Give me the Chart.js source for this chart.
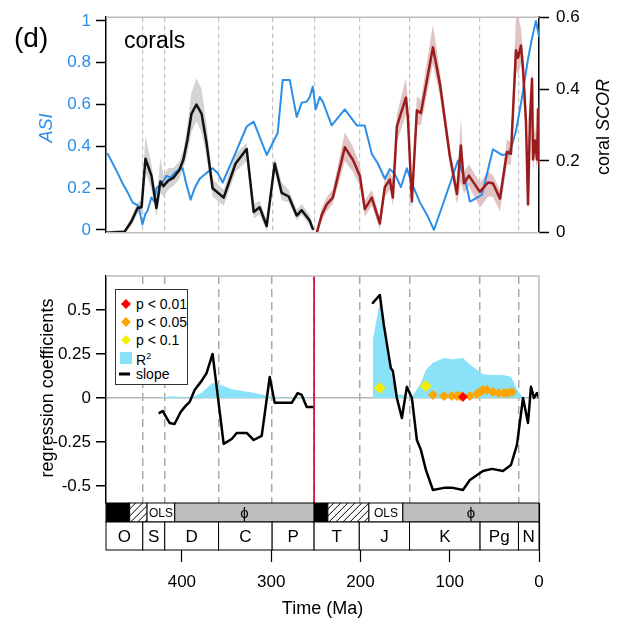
<!DOCTYPE html>
<html>
<head>
<meta charset="utf-8">
<title>corals</title>
<script src="https://cdn.jsdelivr.net/npm/chart.js@4.4.1/dist/chart.umd.min.js"></script>
<style>
  body { margin: 0; background: #fff; font-family: "Liberation Sans", Arial, sans-serif; }
  #page { position: relative; width: 618px; height: 625px; overflow: hidden; }
  #topPanel { position: absolute; left: 0; top: 0; }
  #bottomPanel { position: absolute; left: 0; top: 250px; }
  .txt { position: absolute; white-space: nowrap; color: #000; line-height: 1; }
  .vert { transform: translate(-50%, -50%) rotate(-90deg); }
  #legend { position: absolute; left: 115px; top: 289px; width: 71px; height: 94px; border: 1px solid #333; background: #fff; font-size: 14px; }
  #legend .lt { position: absolute; left: 20px; transform: translateY(-50%); white-space: nowrap; line-height: 1; }
  #legend .dia { position: absolute; left: 10px; width: 7px; height: 7px; transform: translate(-50%, -50%) rotate(45deg); }
  #legend .sq { position: absolute; left: 4px; width: 12px; height: 12px; transform: translateY(-50%); background: #8ae2f8; }
  #legend .ln { position: absolute; left: 3px; width: 11px; height: 3px; transform: translateY(-50%); background: #000; }
  #legend sup { font-size: 9px; vertical-align: 6px; }
</style>
</head>
<body>
<div id="page">
  <canvas id="topPanel" width="618" height="250"></canvas>
  <canvas id="bottomPanel" width="618" height="375"></canvas>

  <div class="txt" style="left:14px;top:24px;font-size:28px;">(d)</div>
  <div class="txt" style="left:124px;top:29px;font-size:23px;">corals</div>
  <div class="txt vert" style="left:46px;top:128px;font-size:18px;color:#2b8ee9;font-style:italic;">ASI</div>
  <div class="txt vert" style="left:603px;top:127px;font-size:18px;">coral <i>SCOR</i></div>
  <div class="txt vert" style="left:47px;top:388px;font-size:18px;">regression coefficients</div>

  <div id="legend">
    <span class="dia" style="top:14px;background:#ff0000"></span><span class="lt" style="top:14px">p &lt; 0.01</span>
    <span class="dia" style="top:32px;background:#ffa500"></span><span class="lt" style="top:32px">p &lt; 0.05</span>
    <span class="dia" style="top:50px;background:#f2ee00"></span><span class="lt" style="top:50px">p &lt; 0.1</span>
    <span class="sq" style="top:68px"></span><span class="lt" style="top:69px">R<sup>2</sup></span>
    <span class="ln" style="top:84px"></span><span class="lt" style="top:84px">slope</span>
  </div>
</div>

<script>
// geologic time scale (Ma)
const periodNames = ['O', 'S', 'D', 'C', 'P', 'T', 'J', 'K', 'Pg', 'N'];
const periodBase = [485, 443.8, 419.2, 358.9, 298.9, 251.9, 201.3, 145, 66, 23];
const periodTop = [443.8, 419.2, 358.9, 298.9, 251.9, 201.3, 145, 66, 23, 0];
const methodBase = [485, 458.5, 439, 408, 251.9, 236.5, 190.5, 152.5];
const methodTop = [458.5, 439, 408, 251.9, 236.5, 190.5, 152.5, 0];
const methodKind = ['none', 'hatch', 'OLS', 'phi', 'none', 'hatch', 'OLS', 'phi'];
const boundaries = [443.8, 419.2, 358.9, 298.9, 251.9, 201.3, 145, 66, 23];
const ptBoundary = 251.9;

// tick labels
const asiTicks = [0, 0.2, 0.4, 0.6, 0.8, 1];
const scorTicks = [0, 0.2, 0.4, 0.6];
const regTicks = [0.5, 0.25, 0, -0.25, -0.5];
const timeTicks = [400, 300, 200, 100, 0];

// ASI
const asiAge = [483, 472, 466.5, 461, 455.3, 448.6, 444.2, 440.8, 438.6, 434.1, 430.8, 428.5, 421.8, 417.1, 412.7,
  408.2, 402.6, 399.2, 394.7, 390.2, 385.7, 380.1, 372.3, 365.6, 360, 354.3, 340.9, 327.4, 319.6, 305,
  292.7, 287.1, 279.2, 271.4, 265.8, 260.2, 256.8, 253.4, 250.1, 245.6, 242.2, 232.2, 217.6, 204.1, 195.2,
  187.3, 180.5, 172.7, 167.1, 161.5, 154.7, 148, 142.4, 133.4, 124.5, 117.7, 107.6, 90.8, 83, 77.4,
  63.9, 51.6, 41.5, 34.8, 30.3, 25.8, 19.1, 12.3, 7.8, 3.4, 0];
const asiValue = [0.364, 0.273, 0.223, 0.182, 0.132, 0.114, 0.027, 0.077, 0.091, 0.155, 0.136, 0.2, 0.227, 0.259, 0.25,
  0.273, 0.291, 0.295, 0.214, 0.145, 0.2, 0.245, 0.273, 0.295, 0.273, 0.227, 0.359, 0.495, 0.518, 0.359,
  0.464, 0.718, 0.718, 0.541, 0.609, 0.614, 0.636, 0.686, 0.577, 0.636, 0.614, 0.5, 0.577, 0.5, 0.5,
  0.364, 0.318, 0.245, 0.291, 0.268, 0.205, 0.295, 0.223, 0.132, 0.064, 0, 0.123, 0.332, 0.245, 0.136,
  0.168, 0.386, 0.359, 0.364, 0.405, 0.473, 0.632, 0.818, 0.918, 1.0, 0.927];

// coral SCOR, Paleozoic
const scorPalAge = [484.4, 464.2, 456.4, 449.6, 445.2, 440.8, 434.1, 428.5, 424, 420.7, 415.1, 409.5, 402.8, 398.3, 393.8,
  389.3, 383.7, 377.9, 372.3, 365.6, 353.2, 339.8, 327.4, 319.6, 312.9, 305, 296, 288.2, 280.3, 271.4,
  265.8, 256.8, 253.4];
const scorPal = [0, 0.003, 0.032, 0.069, 0.071, 0.206, 0.159, 0.069, 0.143, 0.13, 0.146, 0.153, 0.175, 0.204, 0.259,
  0.331, 0.357, 0.331, 0.249, 0.124, 0.098, 0.193, 0.233, 0.058, 0.071, 0.019, 0.193, 0.111, 0.101, 0.048,
  0.063, 0.034, 0.011];
const scorPalLow = [0, 0, 0.02, 0.055, 0.05, 0.17, 0.12, 0.045, 0.11, 0.1, 0.12, 0.13, 0.15, 0.18, 0.22,
  0.28, 0.31, 0.28, 0.21, 0.1, 0.075, 0.17, 0.2, 0.04, 0.05, 0.005, 0.17, 0.09, 0.085, 0.035,
  0.05, 0.02, 0.005];
const scorPalHigh = [0.005, 0.008, 0.045, 0.085, 0.09, 0.27, 0.19, 0.09, 0.21, 0.16, 0.18, 0.18, 0.2, 0.23, 0.3,
  0.39, 0.43, 0.4, 0.3, 0.15, 0.12, 0.22, 0.25, 0.08, 0.09, 0.035, 0.21, 0.14, 0.12, 0.065,
  0.08, 0.05, 0.02];

// coral SCOR, Mesozoic-Cenozoic
const scorMesAge = [248.9, 243.3, 237.7, 231, 217.5, 208.6, 200.7, 195.1, 187.3, 178.3, 172.7, 167.1, 163.7, 159.2, 149.1,
  146.9, 142.4, 136.8, 132.3, 118.8, 111, 99.8, 91.9, 87.5, 84.1, 78.5, 66.2, 57.2, 51.6, 43.7,
  35.9, 31.4, 25.8, 23.5, 20.2, 17.9, 14.6, 12.3, 10.1, 7.8, 6.7, 4.5, 2.2, 1.1, 0];
const scorMes = [0, 0.05, 0.079, 0.098, 0.238, 0.204, 0.159, 0.066, 0.098, 0.026, 0.127, 0.148, 0.098, 0.296, 0.376,
  0.323, 0.087, 0.341, 0.333, 0.516, 0.415, 0.212, 0.108, 0.243, 0.138, 0.159, 0.114, 0.14, 0.138, 0.095,
  0.225, 0.22, 0.508, 0.487, 0.521, 0.458, 0.31, 0.079, 0.317, 0.429, 0.204, 0.257, 0.204, 0.344, 0.193];
const scorMesLow = [0, 0.035, 0.06, 0.08, 0.2, 0.17, 0.13, 0.045, 0.075, 0.01, 0.1, 0.12, 0.075, 0.25, 0.33,
  0.28, 0.06, 0.3, 0.3, 0.47, 0.38, 0.19, 0.08, 0.14, 0.11, 0.13, 0.07, 0.1, 0.1, 0.06,
  0.19, 0.19, 0.45, 0.44, 0.47, 0.4, 0.25, 0.06, 0.27, 0.38, 0.17, 0.22, 0.17, 0.3, 0.16];
const scorMesHigh = [0.01, 0.07, 0.1, 0.12, 0.28, 0.24, 0.19, 0.09, 0.12, 0.045, 0.15, 0.17, 0.15, 0.33, 0.43,
  0.37, 0.11, 0.38, 0.37, 0.58, 0.45, 0.24, 0.13, 0.32, 0.17, 0.19, 0.14, 0.17, 0.16, 0.12,
  0.26, 0.25, 0.6, 0.6, 0.57, 0.5, 0.37, 0.12, 0.36, 0.46, 0.25, 0.3, 0.25, 0.38, 0.23];

// regression, Paleozoic
const regPalAge = [425, 421.6, 413.8, 408.2, 401.4, 395.8, 391.3, 385.7, 377.9, 372.3, 365.6, 353.2, 344.2, 338.6, 327.4,
  319.6, 310.6, 301.6, 296, 287.1, 277, 270.2, 265.8, 260.2, 253.4];
const slopePal = [-0.085, -0.074, -0.142, -0.148, -0.08, -0.045, -0.023, 0.045, 0.097, 0.142, 0.25, -0.261, -0.233, -0.199, -0.199,
  -0.239, -0.216, 0.119, -0.028, -0.028, -0.028, 0.028, 0.017, -0.051, -0.051];
const r2Pal = [0, 0.003, 0.008, 0.01, 0.004, 0.002, 0.003, 0.01, 0.03, 0.055, 0.085, 0.068, 0.05, 0.045, 0.035,
  0.03, 0.02, 0.008, 0.004, 0.003, 0.003, 0.003, 0.003, 0.003, 0.003];

// regression, Mesozoic-Cenozoic
const regMesAge = [186.1, 178.3, 173.8, 169.3, 166, 163.7, 159.2, 153.6, 148, 142.4, 136.8, 132.3, 126.7, 118.8, 106.5,
  96.4, 85.2, 77.4, 62.8, 52.7, 40.4, 31.4, 24.7, 17.9, 12.3, 9, 5.6, 2.2, 0];
const slopeMes = [0.54, 0.585, 0.415, 0.273, 0.17, 0.153, 0, -0.114, 0.063, 0, -0.239, -0.295, -0.409, -0.523, -0.511,
  -0.511, -0.523, -0.466, -0.415, -0.403, -0.415, -0.381, -0.267, 0, -0.142, 0.063, 0, 0.028, 0];
const r2Mes = [0.33, 0.545, 0.4, 0.25, 0.16, 0.1, 0.017, 0.02, 0.005, 0.005, 0.05, 0.085, 0.16, 0.2, 0.227,
  0.22, 0.227, 0.19, 0.135, 0.13, 0.13, 0.12, 0.05, 0.003, 0.003, 0.003, 0.003, 0.003, 0.003];

// significance markers
const p001Age = [85.2];
const p001Value = [0.006];
const p005Age = [118.8, 106.5, 97.6, 92, 88.5, 77.4, 69.5, 66.2, 62.8, 58.3, 51.6, 44.9, 39.2, 34.8, 30.3];
const p005Value = [0.017, 0.011, 0.011, 0.011, 0.011, 0.011, 0.023, 0.034, 0.045, 0.045, 0.034, 0.028, 0.028, 0.028, 0.034];
const p01Age = [178.3, 126.7];
const p01Value = [0.057, 0.068];

const AGE_MAX = 485;
const ASI_MIN = -0.0136, ASI_MAX = 1.018;
const REG_MIN = -0.597, REG_MAX = 0.693;

const FONT = '"Liberation Sans", Arial, sans-serif';
Chart.defaults.font.family = FONT;

const pts = (xs, ys) => xs.map((x, i) => ({ x: x, y: ys[i] }));

function setTicks(values) {
    return function (scale) {
        scale.ticks = values.map(v => ({ value: v }));
    };
}

// gray box lines around the plot area
function framePlugin(sides) {
    return {
        id: 'frame',
        afterDatasetsDraw(chart) {
            const { ctx, chartArea: a } = chart;
            ctx.save();
            ctx.strokeStyle = '#bdbdbd';
            ctx.lineWidth = 1.5;
            ctx.beginPath();
            if (sides.includes('top')) { ctx.moveTo(a.left, a.top); ctx.lineTo(a.right, a.top); }
            if (sides.includes('bottom')) { ctx.moveTo(a.left, a.bottom); ctx.lineTo(a.right, a.bottom); }
            if (sides.includes('right')) { ctx.moveTo(a.right, a.top); ctx.lineTo(a.right, a.bottom); }
            ctx.stroke();
            ctx.restore();
        }
    };
}

// method row and period row under the lower panel
const timescalePlugin = {
    id: 'timescale',
    afterDraw(chart) {
        const ctx = chart.ctx;
        const xs = chart.scales.x;
        const top = chart.chartArea.bottom;
        const mid = top + 19;
        const bot = top + 47;
        ctx.save();
        ctx.lineWidth = 1;
        ctx.strokeStyle = '#000';

        methodBase.forEach((from, i) => {
            const x0 = xs.getPixelForValue(from);
            const x1 = xs.getPixelForValue(methodTop[i]);
            const kind = methodKind[i];
            ctx.fillStyle = kind === 'none' ? '#000' : kind === 'phi' ? '#bebebe' : '#fff';
            ctx.fillRect(x0, top, x1 - x0, mid - top);
            if (kind === 'hatch') {
                ctx.save();
                ctx.beginPath();
                ctx.rect(x0, top, x1 - x0, mid - top);
                ctx.clip();
                ctx.beginPath();
                for (let k = x0 - 20; k < x1 + 20; k += 7) {
                    ctx.moveTo(k, mid);
                    ctx.lineTo(k + (mid - top), top);
                }
                ctx.stroke();
                ctx.restore();
            }
            ctx.strokeRect(x0, top, x1 - x0, mid - top);
            ctx.fillStyle = '#000';
            ctx.textAlign = 'center';
            ctx.textBaseline = 'middle';
            if (kind === 'OLS') {
                ctx.font = '12px ' + FONT;
                ctx.fillText('OLS', (x0 + x1) / 2, (top + mid) / 2 + 1);
            } else if (kind === 'phi') {
                ctx.font = '15px ' + FONT;
                ctx.fillText('\u03D5', (x0 + x1) / 2, (top + mid) / 2 + 1);
            }
        });

        periodBase.forEach((from, i) => {
            const x0 = xs.getPixelForValue(from);
            const x1 = xs.getPixelForValue(periodTop[i]);
            ctx.fillStyle = '#fff';
            ctx.fillRect(x0, mid, x1 - x0, bot - mid);
            ctx.strokeRect(x0, mid, x1 - x0, bot - mid);
            ctx.fillStyle = '#000';
            ctx.font = '17px ' + FONT;
            ctx.textAlign = 'center';
            ctx.textBaseline = 'middle';
            ctx.fillText(periodNames[i], (x0 + x1) / 2, (mid + bot) / 2 + 1);
        });
        ctx.restore();
    }
};

function bandPair(ages, low, high, color) {
    return [
        { data: pts(ages, low), yAxisID: 'y2', borderColor: 'rgba(0,0,0,0)', fill: false, order: 5 },
        { data: pts(ages, high), yAxisID: 'y2', borderColor: 'rgba(0,0,0,0)', backgroundColor: color, fill: '-1', order: 5 }
    ];
}

const baseOptions = {
    responsive: false,
    animation: false,
    devicePixelRatio: 1,
    plugins: { legend: { display: false }, tooltip: { enabled: false } },
    elements: {
        point: { radius: 0, hoverRadius: 0 },
        line: { tension: 0, borderJoinStyle: 'round', borderCapStyle: 'round' }
    }
};

new Chart(document.getElementById('topPanel'), {
    type: 'line',
    data: {
        datasets: [
            ...bandPair(scorPalAge, scorPalLow, scorPalHigh, '#d3d3d3'),
            ...bandPair(scorMesAge, scorMesLow, scorMesHigh, '#e0c3c3'),
            { label: 'ASI', data: pts(asiAge, asiValue), yAxisID: 'y', borderColor: '#2b8ee9', borderWidth: 2, order: 3 },
            { label: 'coral SCOR', data: pts(scorPalAge, scorPal), yAxisID: 'y2', borderColor: '#111', borderWidth: 2.5, order: 1 },
            { label: 'coral SCOR', data: pts(scorMesAge, scorMes), yAxisID: 'y2', borderColor: '#9b1c1c', borderWidth: 2.5, order: 1 }
        ]
    },
    options: {
        ...baseOptions,
        layout: { padding: { top: 13, bottom: 10, left: 0, right: 0 } },
        scales: {
            x: {
                type: 'linear', min: 0, max: AGE_MAX, reverse: true,
                afterBuildTicks: setTicks(boundaries),
                afterFit: s => { s.height = 0; },
                ticks: { display: false },
                grid: { drawTicks: false, color: '#c4c4c4', lineWidth: 1.2 },
                border: { display: false, dash: [5, 3] }
            },
            y: {
                position: 'left', min: ASI_MIN, max: ASI_MAX,
                afterBuildTicks: setTicks(asiTicks),
                afterFit: s => { s.width = 106; },
                ticks: { color: '#2b8ee9', font: { size: 17 }, padding: 5, callback: v => String(v) },
                grid: { drawOnChartArea: false, tickLength: 10, tickColor: '#000', tickWidth: 1.5 },
                border: { color: '#000', width: 1.5 }
            },
            y2: {
                position: 'right', min: 0, max: 0.6,
                afterBuildTicks: setTicks(scorTicks),
                afterFit: s => { s.width = 79; },
                ticks: { color: '#000', font: { size: 17 }, padding: 7, callback: v => String(v) },
                grid: { drawOnChartArea: false, tickLength: 10, tickColor: '#000', tickWidth: 1.5 },
                border: { color: '#000', width: 1.5 }
            }
        }
    },
    plugins: [framePlugin(['top', 'bottom'])]
});

new Chart(document.getElementById('bottomPanel'), {
    type: 'line',
    data: {
        datasets: [
            { label: 'R2', data: pts(regPalAge, r2Pal), xAxisID: 'x', borderColor: 'rgba(0,0,0,0)', backgroundColor: '#8ae2f8', fill: 'origin', order: 5 },
            { label: 'R2', data: pts(regMesAge, r2Mes), xAxisID: 'x', borderColor: 'rgba(0,0,0,0)', backgroundColor: '#8ae2f8', fill: 'origin', order: 5 },
            { label: 'slope', data: pts(regPalAge, slopePal), xAxisID: 'x', borderColor: '#000', borderWidth: 2.5, order: 2 },
            { label: 'slope', data: pts(regMesAge, slopeMes), xAxisID: 'x', borderColor: '#000', borderWidth: 2.5, order: 2 },
            { label: 'p < 0.05', data: pts(p005Age, p005Value), xAxisID: 'x', showLine: false, pointStyle: 'rectRot',
              pointRadius: 4.5, backgroundColor: '#ffa500', borderColor: '#ffa500', borderWidth: 1, order: 1 },
            { label: 'p < 0.01', data: pts(p001Age, p001Value), xAxisID: 'x', showLine: false, pointStyle: 'rectRot',
              pointRadius: 4.5, backgroundColor: '#ff0000', borderColor: '#ff0000', borderWidth: 1, order: 0 },
            { label: 'p < 0.1', data: pts(p01Age, p01Value), xAxisID: 'x', showLine: false, pointStyle: 'rectRot',
              pointRadius: 5.5, backgroundColor: '#f2ee00', borderColor: '#f2ee00', borderWidth: 1, order: 0 },
            { label: 'P/T', data: [{ x: ptBoundary, y: REG_MIN }, { x: ptBoundary, y: REG_MAX }], xAxisID: 'x',
              borderColor: '#d5173d', borderWidth: 1.8, order: 0 }
        ]
    },
    options: {
        ...baseOptions,
        layout: { padding: { top: 26, right: 79, bottom: 0, left: 0 } },
        scales: {
            x: {
                type: 'linear', position: 'bottom', min: 0, max: AGE_MAX, reverse: true,
                afterBuildTicks: setTicks(timeTicks),
                afterFit: s => { s.height = 122; },
                ticks: { color: '#000', font: { size: 17 }, padding: 10, maxRotation: 0, autoSkip: false, callback: v => String(v) },
                grid: { drawOnChartArea: false, drawTicks: true, tickLength: 59, tickColor: '#000', tickWidth: 1.2 },
                border: { display: false },
                title: { display: true, text: 'Time (Ma)', color: '#000', font: { size: 18 }, padding: { top: 0, bottom: 5 } }
            },
            xb: {
                type: 'linear', position: 'top', min: 0, max: AGE_MAX, reverse: true,
                afterBuildTicks: setTicks(boundaries),
                afterFit: s => { s.height = 0; },
                ticks: { display: false },
                grid: { drawTicks: false, color: '#aaaaaa', lineWidth: 1.5 },
                border: { display: false, dash: [8, 5] }
            },
            y: {
                position: 'left', min: REG_MIN, max: REG_MAX,
                afterBuildTicks: setTicks(regTicks),
                afterFit: s => { s.width = 106; },
                ticks: { color: '#000', font: { size: 17 }, padding: 5, callback: v => String(v) },
                grid: {
                    color: c => (c.tick && c.tick.value === 0 ? '#b3b3b3' : 'rgba(0,0,0,0)'),
                    lineWidth: 1.5, tickLength: 10, tickColor: '#000', tickWidth: 1.5
                },
                border: { color: '#000', width: 1.5 }
            }
        }
    },
    plugins: [framePlugin(['top', 'right']), timescalePlugin]
});
</script>
</body>
</html>
